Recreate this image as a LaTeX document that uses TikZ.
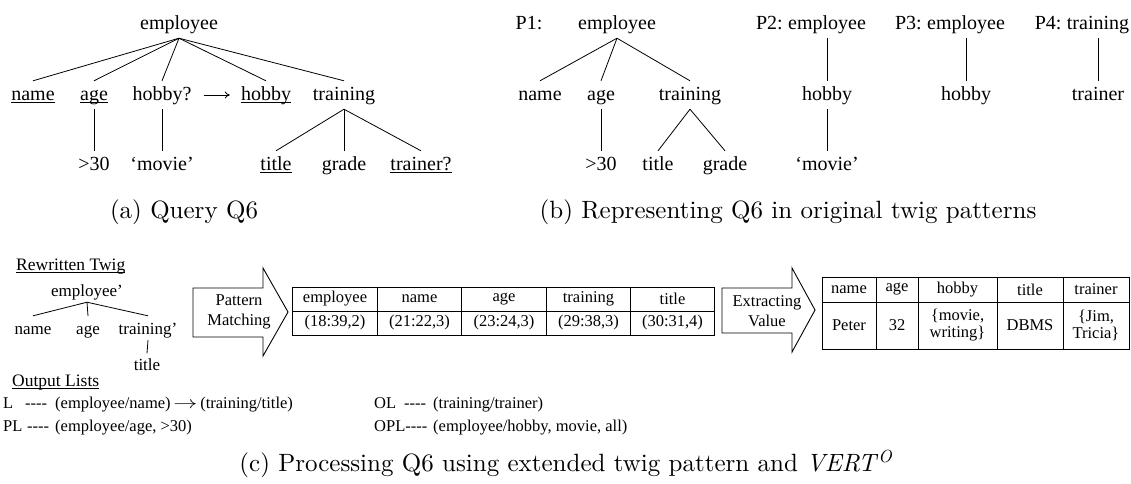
\documentclass[tikz,border=0pt]{standalone}
\usepackage{fontspec}
\newfontfamily\tm{Liberation Serif}
\newfontfamily\capfont{lmroman10-regular.otf}[ItalicFont=lmroman10-italic.otf]
\usetikzlibrary{arrows.meta}
% underline at a fixed depth below the baseline
\newcommand\ulin[1]{\setbox0\hbox{#1}\rlap{\rule[-3pt]{\wd0}{0.8pt}}\box0}
\begin{document}
\begin{tikzpicture}[x=1pt,y=-1pt,
  tn/.style={font=\tm\fontsize{20}{22}\selectfont, inner xsep=1pt, inner ysep=5pt,
             text height=14pt, text depth=4pt, anchor=base},
  sn/.style={font=\tm\fontsize{17}{19}\selectfont, inner xsep=1pt, inner ysep=2pt,
             text height=16pt, text depth=4pt, anchor=base},
  ln/.style={font=\tm\fontsize{16.5}{18}\selectfont, inner sep=0pt, anchor=base west},
  hd/.style={font=\tm\fontsize{17.5}{19}\selectfont, inner sep=0pt, anchor=base west},
  captxt/.style={font=\capfont\fontsize{25}{28}\selectfont, inner sep=0pt},
  edge/.style={line width=0.8pt},
  cell/.style={draw, line width=1pt, inner sep=0pt, align=center,
               font=\tm\fontsize{16.5}{18}\selectfont},
  cw/.style={minimum width=#1},
  ch/.style={minimum height=#1},
  blk/.style={draw, line width=0.9pt, fill=white},
  blktxt/.style={font=\tm\fontsize{16.5}{20}\selectfont, align=center, inner sep=0pt}
]
\useasboundingbox (0,0) rectangle (1131,483);

% ---------- (a) query tree ----------
\node[tn] (a0) at (179,29) {employee};
\node[tn] (a1) at (33,100) {\ulin{name}};
\node[tn] (a2) at (94,100) {\ulin{age}};
\node[tn] (a3) at (162,100) {hobby?};
\node[tn] (a4) at (266,100) {\ulin{hobby}};
\node[tn] (a5) at (344,100) {training};
\node[tn] (a6) at (94,170) {>30};
\node[tn] (a7) at (162,170) {‘movie’};
\node[tn] (a8) at (276,170) {\ulin{title}};
\node[tn] (a9) at (344,170) {grade};
\node[tn] (a10) at (421,170) {\ulin{trainer?}};
\foreach \c in {a1,a2,a3,a4,a5} \draw[edge] (a0.south) -- (\c.north);
\draw[edge] (a2.south) -- (a6.north);
\draw[edge] (a3.south) -- (a7.north);
\foreach \c in {a8,a9,a10} \draw[edge] (a5.south) -- (\c.north);
\draw[edge, -{To[length=5pt,width=7pt]}, shorten <=11pt, shorten >=10pt] (a3.east) -- (a4.west);
\node[captxt] (capa) at (184,212) {(a) Query Q6};

% ---------- (b) original twig patterns ----------
\node[tn] (p1) at (529,29) {P1:};
\node[tn] (b0) at (617,29) {employee};
\node[tn] (b1) at (540,100) {name};
\node[tn] (b2) at (601,100) {age};
\node[tn] (b3) at (690,100) {training};
\node[tn] (b4) at (601,170) {>30};
\node[tn] (b5) at (658,170) {title};
\node[tn] (b6) at (725,170) {grade};
\foreach \c in {b1,b2,b3} \draw[edge] (b0.south) -- (\c.north);
\draw[edge] (b2.south) -- (b4.north);
\draw[edge] (b3.south) -- (b5.north);
\draw[edge] (b3.south) -- (b6.north);

\node[tn] (c0) at (827,29) {employee};
\node[tn, anchor=base east] (p2) at ([xshift=-3pt]c0.base west) {P2:};
\node[tn] (c1) at (827,100) {hobby};
\node[tn] (c2) at (827,170) {‘movie’};
\draw[edge] (c0.south) -- (c1.north);
\draw[edge] (c1.south) -- (c2.north);

\node[tn] (d0) at (966,29) {employee};
\node[tn, anchor=base east] (p3) at ([xshift=-3pt]d0.base west) {P3:};
\node[tn] (d1) at (966,100) {hobby};
\draw[edge] (d0.south) -- (d1.north);

\node[tn] (e0) at (1098,29) {training};
\node[tn, anchor=base east] (p4) at ([xshift=-3pt]e0.base west) {P4:};
\node[tn] (e1) at (1098,100) {trainer};
\draw[edge] (e0.south) -- (e1.north);
\node[captxt] (capb) at (788,212) {(b) Representing Q6 in original twig patterns};

% ---------- (c) extended twig pattern ----------
\node[hd] (rt) at (16,270) {\ulin{Rewritten Twig}};
\node[sn] (f0) at (87,296) {employee’};
\node[sn] (f1) at (33,334) {name};
\node[sn] (f2) at (88,334) {age};
\node[sn] (f3) at (148,334) {training’};
\node[sn, inner ysep=0.5pt] (f4) at (147,370) {title};
\foreach \c in {f1,f2,f3} \draw[edge] (f0.south) -- (\c.north);
\draw[edge] (f3.south) -- (f4.north);
\node[hd] (ol) at (12,386) {\ulin{Output Lists}};

\node[ln] (k1) at (3,408) {L};
\node[ln] (k1d) at (25,408) {-{}-{}-{}-};
\node[ln] (k1v) at (55,408) {(employee/name)\,\scalebox{1.4}[1]{$\rightarrow$}\,(training/title)};
\node[ln] (k2) at (3,431) {PL};
\node[ln] (k2d) at (27,431) {-{}-{}-{}-};
\node[ln] (k2v) at (55,431) {(employee/age, >30)};
\node[ln] (k3) at (374,408) {OL};
\node[ln] (k3d) at (404,408) {-{}-{}-{}-};
\node[ln] (k3v) at (433,408) {(training/trainer)};
\node[ln] (k4) at (374,431) {OPL-{}-{}-{}-};
\node[ln] (k4v) at (433,431) {(employee/hobby, movie, all)};

% block arrow: pattern matching
\draw[blk] (193,288) -- (263,288) -- (263,268) -- (288,312) -- (263,356)
           -- (263,337) -- (193,337) -- cycle;
\node[blktxt] (pm) at (239,312) {Pattern\\Matching};

% table of matched positions
\foreach \n/\x/\h/\v in {employee/335/employee/{(18:39,2)}, name/419.5/name/{(21:22,3)},
    age/504/age/{(23:24,3)}, training/588.5/training/{(29:38,3)}, title/672.5/title/{(30:31,4)}} {
  \node[cell, cw=84.4pt, ch=24pt] (h\n) at (\x,299) {\h};
  \node[cell, cw=84.4pt, ch=24pt] (v\n) at (\x,323) {\v};
}

% block arrow: extracting value
\draw[blk] (722,288) -- (792,288) -- (792,268) -- (815,310) -- (792,352)
           -- (792,333) -- (722,333) -- cycle;
\node[blktxt] (ev) at (767,311) {Extracting\\Value};

% table of extracted values
\foreach \n/\x/\w/\h/\v in {name/849/54/name/Peter, age/897/42/age/32,
    hobby/957.5/79/hobby/{\{movie,\\writing\}}, title/1030/66/title/DBMS,
    trainer/1096/66/trainer/{\{Jim,\\Tricia\}}} {
  \node[cell, cw=\w pt, ch=25pt] (rh\n) at (\x,289.5) {\h};
  \node[cell, cw=\w pt, ch=47pt, font=\tm\fontsize{16.5}{17}\selectfont] (rv\n) at (\x,325.5) {\v};
}

\node[captxt] (capc) at (566,464) {(c) Processing Q6 using extended twig pattern and \textit{VERT}\textsuperscript{\textit{O}}};
\end{tikzpicture}
\end{document}
